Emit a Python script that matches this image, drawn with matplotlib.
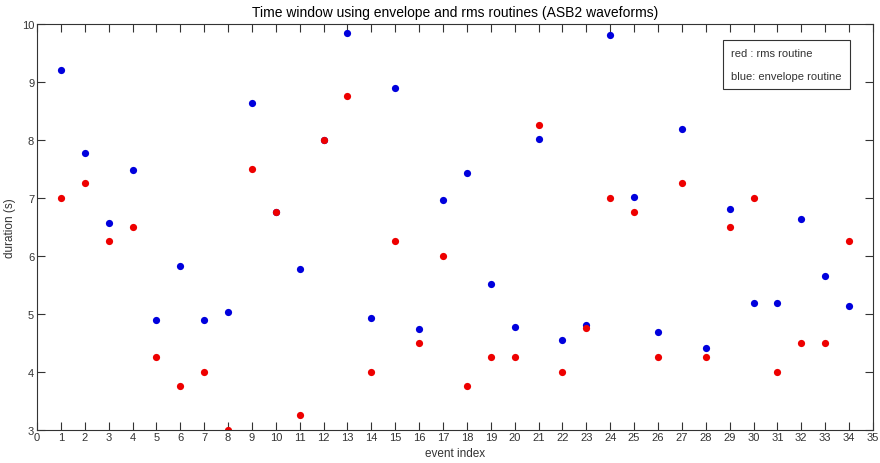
import matplotlib
matplotlib.use("Agg")
import matplotlib.pyplot as plt
import numpy as np

plt.rcParams["font.family"] = ["Liberation Sans", "DejaVu Sans"]

events = np.arange(1, 35)
rms_dur = [7.0, 7.25, 6.25, 6.5, 4.25, 3.75, 4.0, 3.0, 7.5, 6.75,
           3.25, 8.0, 8.75, 4.0, 6.25, 4.5, 6.0, 3.75, 4.25, 4.25,
           8.25, 4.0, 4.75, 7.0, 6.75, 4.25, 7.25, 4.25, 6.5, 7.0,
           4.0, 4.5, 4.5, 6.25]
env_dur = [9.2, 7.78, 6.56, 7.48, 4.89, 5.82, 4.9, 5.03, 8.64, 6.75,
           5.78, 8.0, 9.85, 4.93, 8.89, 4.73, 6.96, 7.43, 5.52, 4.77,
           8.02, 4.54, 4.8, 9.81, 7.02, 4.69, 8.18, 4.4, 6.81, 5.19,
           5.19, 6.64, 5.65, 5.13]

fig = plt.figure(figsize=(8.8, 4.64), dpi=100)
ax = fig.add_axes([0.042, 0.072, 0.950, 0.874])

ax.plot(events, env_dur, "o", color="#0000dd", markersize=5.2, markeredgewidth=0)
ax.plot(events, rms_dur, "o", color="#ee0000", markersize=5.2, markeredgewidth=0)

ax.set_xlim(0, 35)
ax.set_ylim(3, 10)
ax.set_xticks(np.arange(0, 36))
ax.set_yticks(np.arange(3, 11))
ax.tick_params(direction="in", top=True, right=True, length=6, width=0.8,
               labelsize=8, colors="#333333", pad=2)
for s in ax.spines.values():
    s.set_color("#333333")
    s.set_linewidth(0.8)

ax.set_xlabel("event index", fontsize=8.5, color="#333333", labelpad=3)
ax.set_ylabel("duration (s)", fontsize=8.5, color="#333333", labelpad=4)
ax.set_title("Time window using envelope and rms routines (ASB2 waveforms)",
             fontsize=10, pad=6)

ax.text(0.830, 0.94, "red : rms routine\n\nblue: envelope routine",
        transform=ax.transAxes, fontsize=8, color="#333333",
        va="top", ha="left", linespacing=1.15,
        bbox=dict(boxstyle="square,pad=0.75", facecolor="white", edgecolor="#333333", linewidth=0.8))

fig.savefig("out.png", dpi=100)
